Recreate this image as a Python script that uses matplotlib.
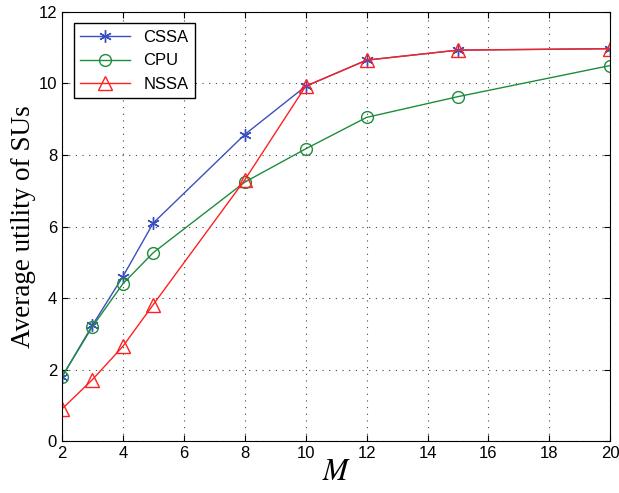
import matplotlib
matplotlib.use("Agg")
import matplotlib.pyplot as plt

M = [2, 3, 4, 5, 8, 10, 12, 15, 20]
cssa = [1.79, 3.24, 4.6, 6.1, 8.57, 9.92, 10.65, 10.93, 10.97]
cpu = [1.8, 3.2, 4.4, 5.27, 7.24, 8.17, 9.05, 9.63, 10.5]
nssa = [0.9, 1.72, 2.65, 3.82, 7.3, 9.92, 10.65, 10.93, 10.97]


def main():
    plt.rcParams["font.family"] = ["Liberation Sans", "DejaVu Sans"]
    plt.rcParams["mathtext.fontset"] = "stix"
    fig = plt.figure(figsize=(6.19, 4.93), dpi=100)
    ax = fig.add_axes([0.1, 0.105, 0.886, 0.871])

    ax.plot(M, cssa, color="#3a4fc0", marker=(6, 2, 0), ms=9, mew=1.0, lw=1.0, label="CSSA")
    ax.plot(M, cpu, color="#1e8c3c", marker="o", ms=8.5, mfc="none", mew=1.0, lw=1.0, label="CPU")
    ax.plot(M, nssa, color="#ff2020", marker="^", ms=9.5, mfc="none", mew=1.0, lw=1.0, label="NSSA")

    ax.set_xlim(2, 20)
    ax.set_ylim(0, 12)
    ax.set_xticks(range(2, 21, 2))
    ax.set_yticks(range(0, 13, 2))
    ax.tick_params(direction="in", top=True, right=True, labelsize=12, length=4)
    ax.grid(True, linestyle=(0, (1, 5)), color="#444444", lw=0.8)

    ax.set_xlabel("$M$", fontsize=22, labelpad=-3)
    ax.set_ylabel("Average utility of SUs", family="Liberation Serif", fontsize=19.5, labelpad=2)

    leg = ax.legend(loc="upper left", fontsize=12, fancybox=False, edgecolor="black",
                    handlelength=3.0, borderaxespad=0.7, framealpha=1)
    leg.get_frame().set_linewidth(1.0)

    fig.savefig("out.png", dpi=100)


if __name__ == "__main__":
    main()
